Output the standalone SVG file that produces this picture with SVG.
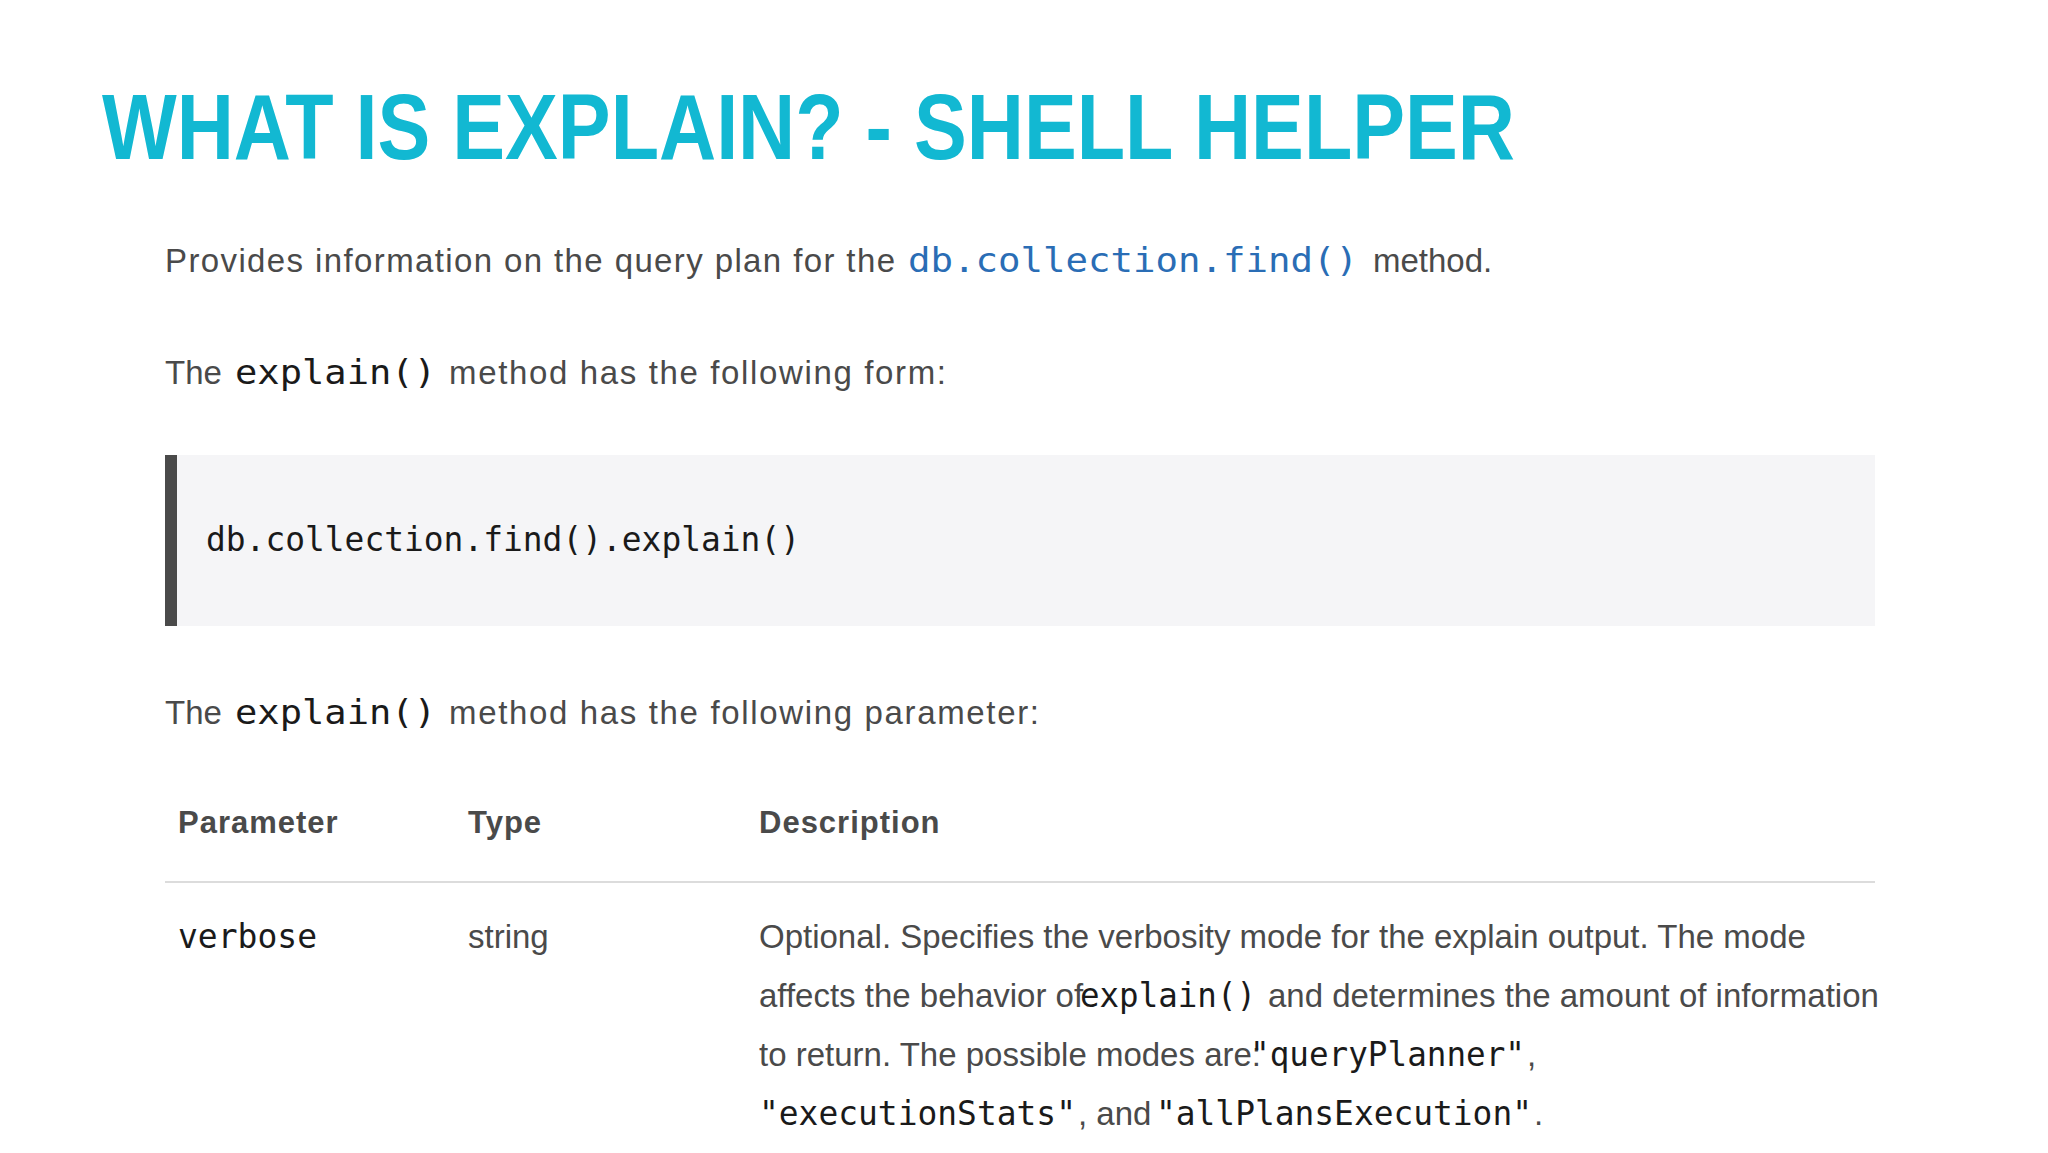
<svg xmlns="http://www.w3.org/2000/svg" width="2048" height="1153" viewBox="0 0 2048 1153">
<style>
.t{font-family:"Liberation Sans",Arial,sans-serif;font-size:33px;fill:#4a4a4a}
.m{font-family:"DejaVu Sans Mono",monospace;font-size:33px;fill:#1a1a1a}
.b{fill:#2a6db5}
.h{font-family:"Liberation Sans",Arial,sans-serif;font-size:31px;font-weight:bold;fill:#4a4a4a;letter-spacing:1px}
</style>
<rect width="2048" height="1153" fill="#ffffff"/>
<g id="title"><text x="102" y="159" font-family="Liberation Sans,Arial,sans-serif" font-weight="bold" font-size="92" fill="#12b8d2" textLength="1413" lengthAdjust="spacingAndGlyphs">WHAT IS EXPLAIN? - SHELL HELPER</text></g>
<g id="intro">
<text y="272"><tspan class="t" x="165" textLength="730">Provides information on the query plan for the</tspan><tspan class="m b" x="908" textLength="450" lengthAdjust="spacingAndGlyphs">db.collection.find()</tspan><tspan class="t" x="1373">method.</tspan></text>
<text y="384"><tspan class="t" x="165">The</tspan><tspan class="m" x="235" textLength="201" lengthAdjust="spacingAndGlyphs">explain()</tspan><tspan class="t" x="449" textLength="497">method has the following form:</tspan></text>
</g>
<g id="codeblock">
<rect x="165" y="455" width="1710" height="171" fill="#f5f5f7"/>
<rect x="165" y="455" width="12" height="171" fill="#4a4a4a"/>
<text class="m" x="206" y="551" fill="#333" textLength="594" lengthAdjust="spacingAndGlyphs">db.collection.find().explain()</text>
</g>
<g id="param-intro">
<text y="724"><tspan class="t" x="165">The</tspan><tspan class="m" x="235" textLength="201" lengthAdjust="spacingAndGlyphs">explain()</tspan><tspan class="t" x="449" textLength="590">method has the following parameter:</tspan></text>
</g>
<g id="table">
<text class="h" x="178" y="833">Parameter</text>
<text class="h" x="468" y="833">Type</text>
<text class="h" x="759" y="833">Description</text>
<line x1="165" y1="882" x2="1875" y2="882" stroke="#dcdcdc" stroke-width="2"/>
<text class="m" x="178" y="948">verbose</text>
<text class="t" x="468" y="948">string</text>
<text class="t" x="759" y="948">Optional. Specifies the verbosity mode for the explain output. The mode</text>
<text y="1007"><tspan class="t" x="759">affects the behavior of</tspan><tspan class="m" x="1080" textLength="176" lengthAdjust="spacingAndGlyphs">explain()</tspan><tspan class="t" x="1268">and determines the amount of information</tspan></text>
<text y="1066"><tspan class="t" x="759">to return. The possible modes are:</tspan><tspan class="m" x="1250" textLength="275" lengthAdjust="spacingAndGlyphs">"queryPlanner"</tspan><tspan class="t" x="1527">,</tspan></text>
<text y="1125"><tspan class="m" x="759" textLength="317" lengthAdjust="spacingAndGlyphs">"executionStats"</tspan><tspan class="t" x="1078">, and</tspan><tspan class="m" x="1156" textLength="376" lengthAdjust="spacingAndGlyphs">"allPlansExecution"</tspan><tspan class="t" x="1534">.</tspan></text>
</g>
</svg>
